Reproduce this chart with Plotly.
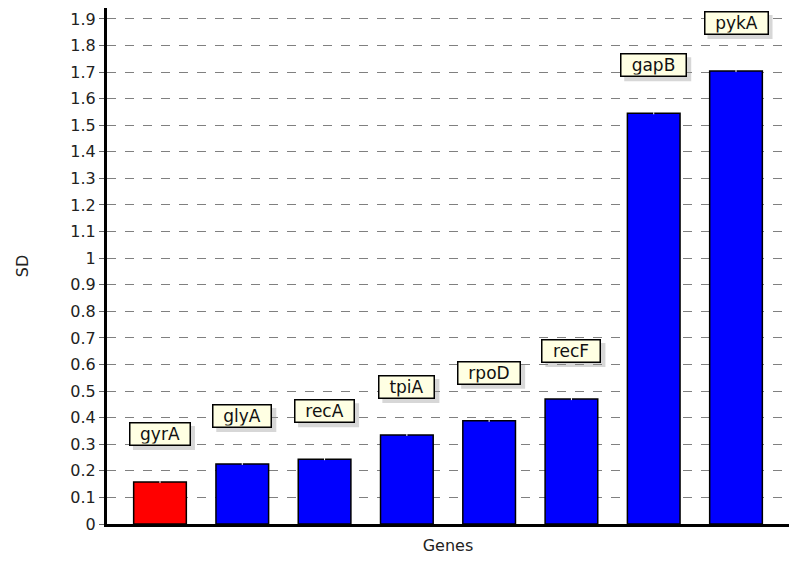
import plotly.graph_objects as go

genes = ["gyrA", "glyA", "recA", "tpiA", "rpoD", "recF", "gapB", "pykA"]
sd_values = [0.158, 0.226, 0.244, 0.335, 0.388, 0.470, 1.545, 1.704]
bar_colors = ["#ff0000", "#0000ff", "#0000ff", "#0000ff", "#0000ff", "#0000ff", "#0000ff", "#0000ff"]
y_ticks = [round(i * 0.1, 1) for i in range(20)]
y_tick_labels = ["0" if v == 0 else ("1" if v == 1 else f"{v:g}") for v in y_ticks]

FONT = "DejaVu Sans, Verdana, sans-serif"
# approximate DejaVu Sans glyph widths (em) to size label boxes
CW = {"g": .635, "y": .592, "r": .411, "A": .684, "l": .278, "e": .615, "c": .55, "t": .392,
      "p": .635, "i": .278, "o": .612, "D": .77, "F": .575, "a": .613, "B": .686, "k": .579}
LABEL_SIZE = 17
LABEL_SHIFT = 48
BOX_H = 19

x_idx = list(range(len(genes)))

fig = go.Figure()
fig.add_trace(go.Bar(
    x=x_idx, y=sd_values,
    marker=dict(color=bar_colors, line=dict(color="#000000", width=1.5)),
    error_y=dict(type="constant", value=0.004, color="#ffffff", thickness=1, width=0),
    width=0.64,
    showlegend=False,
    hoverinfo="skip",
))

for i, (g, v) in enumerate(zip(genes, sd_values)):
    tw = sum(CW.get(c, 0.6) for c in g) * LABEL_SIZE
    w = round(tw + 18)
    full_w = w + 5
    full_h = BOX_H + 5
    # soft drop shadow behind the label box
    fig.add_shape(
        type="rect", xref="x", yref="y", xsizemode="pixel", ysizemode="pixel",
        xanchor=i, yanchor=v,
        x0=-full_w / 2 + 4, x1=full_w / 2 + 4,
        y0=LABEL_SHIFT - full_h / 2 - 4, y1=LABEL_SHIFT + full_h / 2 - 4,
        fillcolor="rgba(140,140,140,0.35)", line=dict(width=0), layer="above",
    )
    fig.add_annotation(
        x=i, y=v, text=g, showarrow=False, yshift=LABEL_SHIFT,
        font=dict(family=FONT, size=LABEL_SIZE, color="#111111"),
        bgcolor="#ffffe3", bordercolor="#000000", borderwidth=1.5, borderpad=1,
        width=w, height=BOX_H,
    )

fig.update_layout(
    width=789, height=555,
    margin=dict(l=99, r=8, t=0, b=39),
    paper_bgcolor="#ffffff", plot_bgcolor="#ffffff",
    font=dict(family=FONT, color="#222222"),
    bargap=0.36,
)
fig.update_xaxes(
    range=[-0.644, 7.644], showticklabels=False, ticks="", showgrid=False, zeroline=False,
    showline=True, linecolor="#000000", linewidth=3,
    title=dict(text="Genes", font=dict(size=16, color="#222222"), standoff=14),
)
fig.update_yaxes(
    range=[0, 1.941], tickvals=y_ticks, ticktext=y_tick_labels,
    tickfont=dict(size=16, color="#222222"),
    ticks="outside", ticklen=5, tickcolor="#666666", tickwidth=1,
    showgrid=True, gridcolor="#808080", griddash="dash", gridwidth=1,
    zeroline=False, showline=True, linecolor="#000000", linewidth=3,
    title=dict(text="SD", font=dict(size=16, color="#222222"), standoff=38),
)

fig.write_html("out.html")
